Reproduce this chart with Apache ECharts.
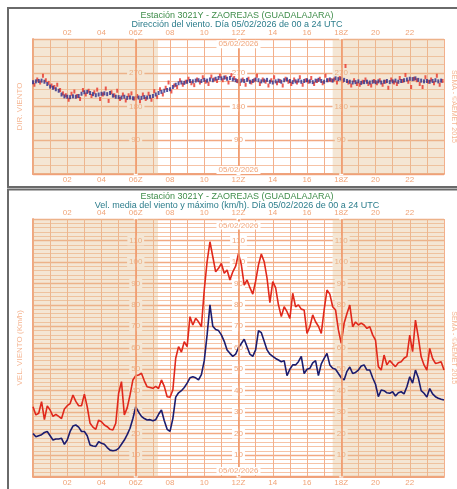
<!DOCTYPE html>
<html>
<head>
<meta charset="utf-8">
<script src="https://cdn.jsdelivr.net/npm/echarts@6/dist/echarts.min.js"></script>
<style>
html,body{margin:0;padding:0;background:#fff}
#main{width:457px;height:489px}
</style>
</head>
<body>
<div id="main"></div>
<script>
// hora -> etiqueta del eje
var hourLabels = {2:'02',4:'04',6:'06Z',8:'08',10:'10',12:'12Z',14:'14',16:'16',18:'18Z',20:'20',22:'22'};
var synopticHours = [6, 12, 18];
var nightEnd = 7.3;      // fin de la noche (UTC)
var nightStart = 17.5;   // inicio de la noche (UTC)
var dateText = '05/02/2026';

// direccion del viento cada 10 minutos (grados)
var dirMedia = [
  245,247,248,249,246,240,233,230,226,222,
  212,207,206,205,207,206,208,214,218,219,
  216,213,210,212,214,215,213,216,209,206,
  205,204,206,203,204,202,203,204,203,205,
  204,206,208,212,216,219,222,224,226,232,
  238,242,244,243,246,248,247,249,250,248,
  251,249,252,250,254,256,255,257,254,256,
  252,250,247,249,248,251,246,248,252,250,
  247,249,251,246,244,247,249,246,250,252,
  248,245,247,249,246,248,250,247,245,249,
  251,248,246,250,252,249,255,253,254,251,
  248,246,244,245,247,243,245,246,244,246,
  245,247,244,246,248,245,247,249,246,248,
  250,252,254,253,255,251,249,247,248,246,
  248,250,247,249
];
var dirRacha = [
  238,252,244,262,250,243,236,232,238,224,
  215,210,198,214,220,208,200,224,212,222,
  208,218,225,200,212,228,195,218,210,222,
  200,212,196,210,215,201,208,194,212,200,
  214,198,221,205,226,212,230,244,220,236,
  232,250,238,246,254,242,237,252,244,258,
  246,240,260,252,248,262,250,258,244,264,
  256,248,240,252,238,254,244,250,262,240,
  252,246,236,250,258,242,248,236,254,246,
  240,252,244,258,238,250,246,256,240,248,
  254,242,262,250,250,252,244,256,248,288,
  244,236,250,240,238,246,252,240,236,248,
  242,250,238,246,230,252,244,240,256,248,
  264,246,232,254,250,240,232,258,246,252,
  242,262,238,248
];

// velocidad media y racha maxima cada 10 minutos (km/h)
var velMedia = [
  20,18.5,19,19.5,20.5,21,19,17,17.5,17.5,
  17.8,15,17,21,23.5,24,23,21,21,19,
  14.7,14.2,14,16.2,15.5,15,13.5,12.3,12,12.2,
  13.1,15,17,19.5,22.5,27,32.5,30,28,27,
  26.3,26.5,26,26.5,29,31,26,22,21,27,
  37,39,40,41.5,43.5,46,46.5,46,45,47.5,
  54,66,80,70,68.5,68,66,63,59,57.4,
  56,57,60,62,64,60.5,57,56,59,68,
  67,63,59,57,56,55,54.3,53.5,54,47,
  50,52,52,53.5,56,48,50,50.4,53,54,
  47,52.5,55,57.4,52,50.4,50,48,46,45,
  49,51,48,48.5,49.6,51.5,52,49.6,49.6,46,
  43,37.2,40.3,40,39,38.8,39.5,37.5,39,39.5,
  38.5,41.8,46.5,43.5,49.6,46,40,38.8,37,41,
  38.5,37.2,36.5,36,35.6
];
var velMaxima = [
  32.5,28.7,29.5,34.9,26.5,32.9,31,28,29,28,
  27,31.5,33,34,38,35,33,33,38.4,32.5,
  24.8,23,22,26.3,25.5,24,23.2,22,21.7,24.8,
  38.8,44.2,28.7,32,38,45,47,47.3,48.1,44.6,
  41.8,41.5,41.1,42,41,45,42,37.2,36.9,40.3,
  55.1,60.5,58,62.8,60.5,74.5,70.6,73.7,72.1,69.8,
  86.9,100.1,109.4,102.4,95.4,97,99.3,94.7,96.2,91.6,
  95.4,98,104,98.6,89.2,91.6,88,85,91,98.6,
  103.7,100.1,92.4,81,90.8,88,80,74.5,79.1,76.8,
  73.7,85.4,79.1,80,78,77.6,66.7,69.8,75.3,72.1,
  70,66.7,77.6,86.9,85,79.1,77.6,68.3,62.1,71.4,
  76,79.9,69.8,72,70.6,71.5,70.6,69,69.8,66,
  63.6,51.2,49.6,56.6,52,54,52.5,51.2,53,53.5,
  55.1,56,65.9,58.2,72.9,65,55.8,52,49.6,59.7,
  55,52.7,53,53.5,49.6
];

function pares(arr) {
  return arr.map(function (v, i) { return [i / 6, v]; });
}

var C_TXT = '#f0a478';
var C_MAJ = '#f2a982';
var C_MIN = '#f6c3a6';
var C_AXIS = '#f0a078';
var FONT = 'Liberation Sans';

var G0 = {left: 33, top: 39, width: 411, height: 135};
var G1 = {left: 33, top: 219, width: 411, height: 257.5};
var pxHour = G0.width / 24;

function xAxes(grid, pos, withSplit) {
  return {
    type: 'value', gridIndex: grid, position: pos, min: 0, max: 24, interval: 1,
    axisLine: {show: true, lineStyle: {color: C_AXIS, width: 1.5}},
    axisTick: {show: false},
    axisLabel: {
      show: true, margin: 2, fontSize: 8, color: C_TXT, fontFamily: FONT,
      formatter: function (v) { return hourLabels[v] || ''; }
    },
    splitLine: {show: withSplit, lineStyle: {color: '#f3b08c', width: 1}}
  };
}

function labelAxis(grid, hour, max, step) {
  return {
    type: 'value', gridIndex: grid, position: 'left', offset: -hour * pxHour,
    min: 0, max: max, interval: step,
    axisLine: {show: false}, axisTick: {show: false}, splitLine: {show: false},
    axisLabel: {
      align: 'center', margin: 0, fontSize: 8, color: C_TXT, fontFamily: FONT,
      backgroundColor: '#fff', padding: [1, 2],
      formatter: function (v) { return (v === 0 || v === max) ? '' : String(v); }
    }
  };
}

function mainY(grid, max, step, minorN, name) {
  return {
    type: 'value', gridIndex: grid, position: 'left', min: 0, max: max, interval: step,
    name: name, nameLocation: 'middle', nameGap: 9,
    nameTextStyle: {fontSize: 8, color: '#f5b693', fontFamily: FONT},
    axisLine: {show: true, lineStyle: {color: C_AXIS, width: 1.5}},
    axisTick: {show: false}, axisLabel: {show: false},
    splitLine: {show: true, lineStyle: {color: C_MAJ, width: 1.3}},
    minorTick: {show: false, splitNumber: minorN},
    minorSplitLine: {show: true, lineStyle: {color: C_MIN, width: 1}}
  };
}

function rightY(grid, max) {
  return {
    type: 'value', gridIndex: grid, position: 'right', min: 0, max: max,
    name: 'SEMA - ©AEMET 2015', nameLocation: 'middle', nameGap: 6, nameRotate: -90,
    nameTextStyle: {fontSize: 7, color: '#f5b693', fontFamily: FONT},
    axisLine: {show: true, lineStyle: {color: C_AXIS, width: 1.5}},
    axisTick: {show: false}, axisLabel: {show: false}, splitLine: {show: false}
  };
}

function nightArea() {
  return {
    silent: true,
    itemStyle: {color: 'rgba(228,192,148,0.4)'},
    data: [[{xAxis: 0}, {xAxis: nightEnd}], [{xAxis: nightStart}, {xAxis: 24}]]
  };
}

function synLines() {
  return {
    silent: true, symbol: 'none', label: {show: false},
    lineStyle: {color: '#f09a6c', width: 1.6, type: 'solid'},
    data: synopticHours.map(function (h) { return {xAxis: h}; })
  };
}

function dateMarks(yTop, yBot) {
  return {
    silent: true, symbolSize: 0,
    label: {show: true, formatter: dateText, fontSize: 8, color: C_TXT, fontFamily: FONT,
            backgroundColor: '#fff', padding: [0, 2]},
    data: [{coord: [12, yTop]}, {coord: [12, yBot]}]
  };
}

var chart = echarts.init(document.getElementById('main'));

var option = {
  animation: false,
  grid: [
    {left: G0.left, top: G0.top, width: G0.width, height: G0.height, outerBoundsMode: 'none'},
    {left: G1.left, top: G1.top, width: G1.width, height: G1.height, outerBoundsMode: 'none'}
  ],
  xAxis: [
    xAxes(0, 'bottom', true), xAxes(0, 'top', false),
    xAxes(1, 'bottom', true), xAxes(1, 'top', false)
  ],
  yAxis: [
    mainY(0, 360, 90, 4, 'DIR. VIENTO'),
    rightY(0, 360),
    labelAxis(0, 6, 360, 90), labelAxis(0, 12, 360, 90), labelAxis(0, 18, 360, 90),
    mainY(1, 120, 10, 5, 'VEL. VIENTO (Km/h)'),
    rightY(1, 120),
    labelAxis(1, 6, 120, 10), labelAxis(1, 12, 120, 10), labelAxis(1, 18, 120, 10)
  ],
  graphic: [
    {type: 'rect', shape: {x: 8, y: 8, width: 470, height: 179}, z: 100,
     style: {fill: 'none', stroke: '#6a6a6a', lineWidth: 2}},
    {type: 'rect', shape: {x: 8, y: 189.5, width: 470, height: 320}, z: 100,
     style: {fill: 'none', stroke: '#6a6a6a', lineWidth: 2}},
    {type: 'text', x: 237, y: 16, z: 100, style: {text: 'Estación 3021Y - ZAOREJAS (GUADALAJARA)',
      fill: '#3f8d4a', font: '9px ' + FONT, textAlign: 'center', textVerticalAlign: 'middle'}},
    {type: 'text', x: 237, y: 25, z: 100, style: {text: 'Dirección del viento. Día 05/02/2026 de 00 a 24 UTC',
      fill: '#2c7d8c', font: '9px ' + FONT, textAlign: 'center', textVerticalAlign: 'middle'}},
    {type: 'text', x: 237, y: 197, z: 100, style: {text: 'Estación 3021Y - ZAOREJAS (GUADALAJARA)',
      fill: '#3f8d4a', font: '9px ' + FONT, textAlign: 'center', textVerticalAlign: 'middle'}},
    {type: 'text', x: 237, y: 206, z: 100, style: {text: 'Vel. media del viento y máximo (km/h). Día 05/02/2026 de 00 a 24 UTC',
      fill: '#2c7d8c', font: '9px ' + FONT, textAlign: 'center', textVerticalAlign: 'middle'}}
  ],
  series: [
    {
      name: 'Dir. racha', type: 'scatter', xAxisIndex: 0, yAxisIndex: 0,
      symbol: 'rect', symbolSize: [2, 4], symbolOffset: [1.4, 0],
      itemStyle: {color: '#e8342a'}, data: pares(dirRacha),
      markArea: nightArea(), markLine: synLines(), markPoint: dateMarks(346, 11)
    },
    {
      name: 'Dir. media', type: 'scatter', xAxisIndex: 0, yAxisIndex: 0,
      symbol: 'rect', symbolSize: [2, 4],
      itemStyle: {color: '#2b2b8a'}, data: pares(dirMedia)
    },
    {
      name: 'Vel. maxima', type: 'line', xAxisIndex: 2, yAxisIndex: 5,
      showSymbol: false, lineStyle: {color: '#e0281c', width: 1.6},
      data: pares(velMaxima),
      markArea: nightArea(), markLine: synLines(), markPoint: dateMarks(117, 2.6)
    },
    {
      name: 'Vel. media', type: 'line', xAxisIndex: 2, yAxisIndex: 5,
      showSymbol: false, lineStyle: {color: '#1c1c6e', width: 1.6},
      data: pares(velMedia)
    }
  ]
};

chart.setOption(option);
</script>
</body>
</html>
